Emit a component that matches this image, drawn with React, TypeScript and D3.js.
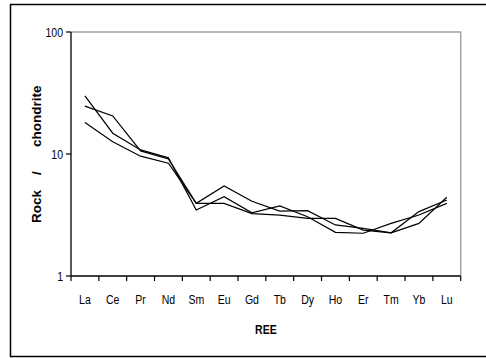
import React, { useEffect, useRef } from 'react';
import * as d3 from 'd3';

// rare earth elements along the x axis
const elements = ['La', 'Ce', 'Pr', 'Nd', 'Sm', 'Eu', 'Gd', 'Tb', 'Dy', 'Ho', 'Er', 'Tm', 'Yb', 'Lu'];

// chondrite-normalised values
const sampleA = [30.0, 14.8, 10.8, 9.3, 3.47, 4.47, 3.3, 3.75, 3.06, 2.28, 2.24, 2.7, 3.16, 3.94];
const sampleB = [24.7, 20.5, 10.6, 9.1, 3.94, 5.47, 4.1, 3.4, 3.43, 2.62, 2.46, 2.26, 3.37, 4.2];
const sampleC = [18.1, 12.6, 9.6, 8.4, 3.94, 3.94, 3.25, 3.16, 2.97, 2.97, 2.38, 2.26, 2.7, 4.42];

const yTicks = [1, 10, 100];

const font = '"Liberation Sans", Arial, Helvetica, sans-serif';
const squeeze = 0.78; // fake Arial Narrow

const App = () => {
  const svgRef = useRef<SVGSVGElement>(null);

  const width = 486;
  const height = 358;
  const margin = { top: 32, right: 25.3, bottom: 82, left: 71 };

  useEffect(() => {
    const svg = d3.select(svgRef.current);
    svg.selectAll('*').remove();

    const x = d3.scaleBand<string>()
      .domain(elements)
      .range([margin.left, width - margin.right])
      .padding(0);

    const y = d3.scaleLog()
      .domain([1, 100])
      .range([height - margin.bottom, margin.top]);

    const x0 = margin.left;
    const x1 = width - margin.right;
    const yBottom = height - margin.bottom;
    const yTop = margin.top;

    // outer frame
    svg.append('rect')
      .attr('x', 10.5).attr('y', 4.5)
      .attr('width', 490).attr('height', 352)
      .attr('fill', 'none')
      .attr('stroke', '#000')
      .attr('stroke-width', 1.5);

    // plot area border (top & right, grey)
    svg.append('path')
      .attr('d', `M${x0},${yTop}H${x1}V${yBottom}`)
      .attr('fill', 'none')
      .attr('stroke', '#a3a3a3')
      .attr('stroke-width', 1.5);

    // lines
    const line = d3.line<number>()
      .x((d, i) => (x(elements[i]) as number) + x.bandwidth() / 2)
      .y(d => y(d));

    [sampleA, sampleB, sampleC].forEach(s => {
      svg.append('path')
        .attr('d', line(s))
        .attr('fill', 'none')
        .attr('stroke', '#000')
        .attr('stroke-width', 1.2)
        .attr('stroke-linejoin', 'miter');
    });

    // y axis
    svg.append('line')
      .attr('x1', x0).attr('x2', x0)
      .attr('y1', yTop).attr('y2', yBottom)
      .attr('stroke', '#000').attr('stroke-width', 1.3);

    const yt = svg.append('g');
    yt.selectAll('line')
      .data(yTicks)
      .join('line')
      .attr('x1', x0 - 5).attr('x2', x0)
      .attr('y1', d => y(d)).attr('y2', d => y(d))
      .attr('stroke', '#000').attr('stroke-width', 1.2);
    yt.selectAll('text')
      .data(yTicks)
      .join('text')
      .attr('transform', d => `translate(63,${y(d)}) scale(${squeeze},1)`)
      .attr('dy', '0.36em')
      .attr('text-anchor', 'end')
      .attr('font-family', font)
      .attr('font-size', 13.5)
      .attr('fill', '#000')
      .text(d => String(d));

    // x axis
    svg.append('line')
      .attr('x1', x0).attr('x2', x1)
      .attr('y1', yBottom).attr('y2', yBottom)
      .attr('stroke', '#000').attr('stroke-width', 1.3);

    const bounds = elements.map(e => x(e) as number).concat([x1]);
    svg.append('g')
      .selectAll('line')
      .data(bounds)
      .join('line')
      .attr('x1', d => d).attr('x2', d => d)
      .attr('y1', yBottom).attr('y2', yBottom + 5)
      .attr('stroke', '#000').attr('stroke-width', 1.2);

    svg.append('g')
      .selectAll('text')
      .data(elements)
      .join('text')
      .attr('transform', d => `translate(${(x(d) as number) + x.bandwidth() / 2},304) scale(${squeeze},1)`)
      .attr('text-anchor', 'middle')
      .attr('font-family', font)
      .attr('font-size', 13.5)
      .attr('fill', '#000')
      .text(d => d);

    // axis titles
    svg.append('text')
      .attr('transform', `translate(${(x0 + x1) / 2},334) scale(${squeeze},1)`)
      .attr('text-anchor', 'middle')
      .attr('font-family', font)
      .attr('font-weight', 'bold')
      .attr('font-size', 13.5)
      .attr('fill', '#000')
      .text('REE');

    const yTitle = svg.append('text')
      .attr('transform', 'translate(40.5,0) rotate(-90)')
      .attr('font-family', font)
      .attr('font-weight', 'bold')
      .attr('font-size', 13.5)
      .attr('fill', '#000');
    yTitle.append('tspan').attr('x', -223).attr('y', 0).text('Rock');
    yTitle.append('tspan').attr('x', -175).attr('y', 0).text('/');
    yTitle.append('tspan').attr('x', -147).attr('y', 0).text('chondrite');
  }, []);

  return (
    <svg
      ref={svgRef}
      width={width}
      height={height}
      style={{ position: 'absolute', left: 0, top: 0, background: '#fff' }}
    />
  );
};

export default App;
